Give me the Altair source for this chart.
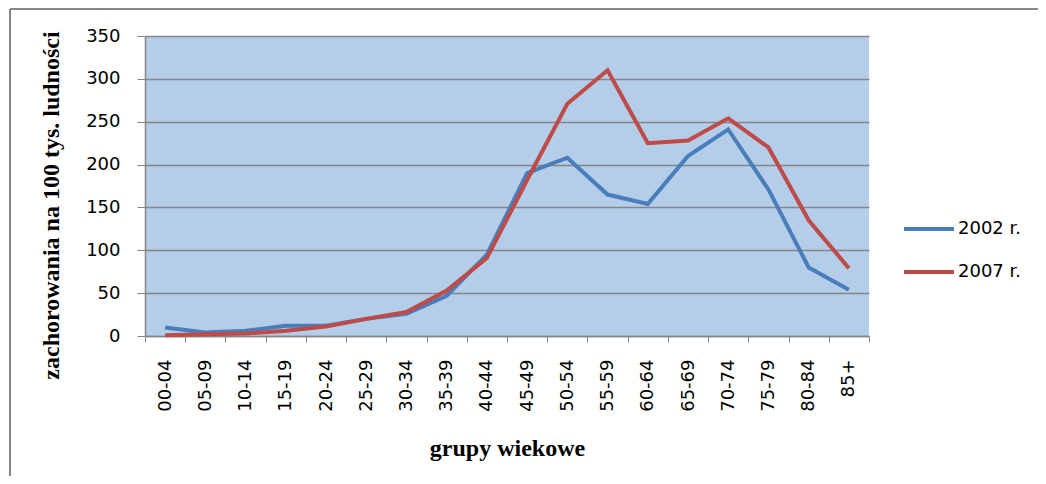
import altair as alt
import pandas as pd

ages = ["00-04", "05-09", "10-14", "15-19", "20-24", "25-29", "30-34", "35-39", "40-44",
        "45-49", "50-54", "55-59", "60-64", "65-69", "70-74", "75-79", "80-84", "85+"]
v2002 = [10, 4, 6, 12, 12, 20, 26, 47, 95, 190, 208, 165, 154, 210, 241, 171, 80, 54]
v2007 = [1, 2, 3, 6, 11, 20, 28, 53, 91, 182, 271, 310, 225, 228, 254, 220, 135, 79]
series = ["2002 r.", "2007 r."]
colors = ["#4A7EBB", "#BE4B48"]
y_ticks = [0, 50, 100, 150, 200, 250, 300, 350]

rows = []
for a, v in zip(ages, v2002):
    rows.append({"grupa": a, "wartosc": v, "seria": series[0]})
for a, v in zip(ages, v2007):
    rows.append({"grupa": a, "wartosc": v, "seria": series[1]})
df = pd.DataFrame(rows)

W, H = 724, 300

lines = alt.Chart(df).mark_line(strokeWidth=4, strokeJoin="miter").encode(
    x=alt.X("grupa:N", sort=ages, bandPosition=0.5,
            scale=alt.Scale(type="band", paddingInner=0, paddingOuter=0),
            axis=alt.Axis(title="grupy wiekowe", labelAngle=-90, tickBand="extent",
                          labelFont="DejaVu Sans", labelFontSize=18, labelColor="#000000",
                          labelPadding=17, tickSize=6, tickColor="#868686",
                          domainColor="#868686", domainWidth=1.5,
                          titleFont="Liberation Serif", titleFontSize=24, titleFontWeight="bold",
                          titleColor="#000000", titleX=W / 2, titleY=112,
                          titleBaseline="middle", titleAlign="center", grid=False)),
    y=alt.Y("wartosc:Q", scale=alt.Scale(domain=[0, 350], nice=False),
            axis=alt.Axis(title="zachorowania na 100 tys. ludności", values=y_ticks,
                          labelFont="DejaVu Sans", labelFontSize=18, labelColor="#000000",
                          labelPadding=17, tickSize=8, tickColor="#868686",
                          domainColor="#868686", domainWidth=1.5,
                          gridColor="#868686", gridWidth=1.5,
                          titleFont="Liberation Serif", titleFontSize=24, titleFontWeight="bold",
                          titleColor="#000000", titleX=-94, titleY=169, titleAngle=-90,
                          titleBaseline="middle", titleAlign="center")),
    color=alt.Color("seria:N", scale=alt.Scale(domain=series, range=colors),
                    legend=alt.Legend(title=None, orient="none", legendX=757, legendY=166,
                                      symbolType="stroke", symbolSize=2500, symbolStrokeWidth=4,
                                      labelFont="DejaVu Sans", labelFontSize=18,
                                      labelColor="#000000", labelOffset=2, rowPadding=7)),
)

frame_top = alt.Chart(df).mark_rule(color="#878787", strokeWidth=1.5).encode(
    x=alt.value(-135), x2=alt.value(1000), y=alt.value(-27))
frame_left = alt.Chart(df).mark_rule(color="#878787", strokeWidth=1.5).encode(
    x=alt.value(-135), y=alt.value(-27), y2=alt.value(500))

chart = alt.layer(lines, frame_top, frame_left).properties(
    width=W, height=H,
    autosize=alt.AutoSizeParams(type="none"),
    padding={"left": 137, "top": 28, "right": 169, "bottom": 140},
    background="#FFFFFF",
).configure_view(fill="#B4CDE9", strokeWidth=0)

chart.save("out.html", embed_options={"renderer": "svg", "actions": False})
